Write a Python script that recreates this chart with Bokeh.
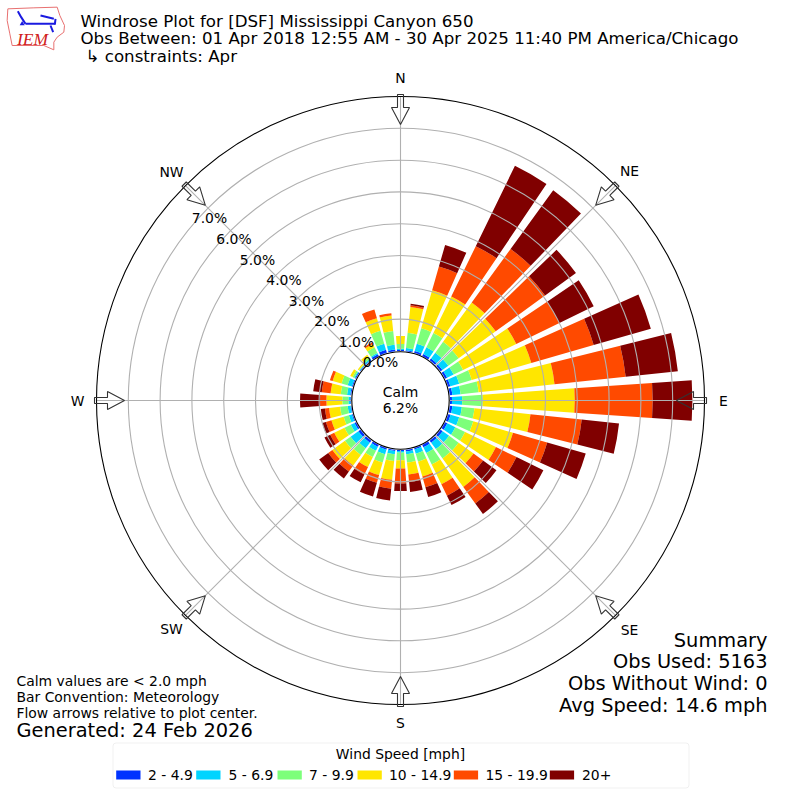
import math
import numpy as np
from bokeh.plotting import figure
from bokeh.models import ColumnDataSource, BoxAnnotation
from bokeh.core.properties import value
from bokeh.embed import file_html
from bokeh.resources import INLINE

# Wind direction (degrees, meteorological)
bearings = [0,10,20,30,40,50,60,70,80,90,100,110,120,130,140,150,160,170,
            180,190,200,210,220,230,240,250,260,270,280,290,300,310,320,330,340,350]
# Stack tops in % frequency, one list per wind speed class (cumulative)
upto_2_49 = [.03,.03,.06,.07,.07,.07,.07,.07,.08,.06,.08,.08,.08,.08,.08,.08,.04,.05,
             .03,.04,.05,.06,.08,.08,.05,.03,.02,.02,.03,.03,.03,.02,.02,.06,.10,.05]
upto_5_69 = [.07,.10,.30,.30,.30,.30,.30,.36,.34,.38,.38,.36,.36,.33,.33,.28,.18,.14,
             .08,.14,.20,.20,.30,.38,.18,.13,.11,.08,.13,.17,.06,.04,.06,.10,.30,.20]
upto_7_99 = [.22,.58,.80,.80,.72,.70,.63,.77,.91,1.03,.78,.82,.70,.70,.69,.68,.44,.40,
             .32,.35,.47,.42,.56,.60,.40,.30,.35,.27,.33,.37,.12,.06,.12,.30,.72,.64]
upto_10_149 = [.47,1.40,2.05,2.08,2.25,2.14,2.49,2.72,3.31,3.92,2.55,2.12,1.78,1.28,1.80,1.37,.93,.78,
               .58,.95,.88,.77,.97,1.09,.76,.70,.70,.77,.65,.66,.20,.10,.22,.42,1.13,1.13]
upto_15_199 = [.47,1.45,2.82,3.84,4.33,4.06,4.00,4.76,5.56,6.37,4.17,3.24,2.50,1.65,2.44,1.77,1.28,1.02,
               1.05,1.23,1.13,1.03,1.20,1.25,.90,.88,.83,.97,.93,.75,.20,.10,.22,.47,1.42,1.20]
upto_20_plus = [.47,1.50,3.53,6.65,6.61,5.26,5.20,6.63,7.21,7.62,5.35,4.50,3.44,2.17,2.85,2.10,1.60,1.33,
                1.29,1.60,1.58,1.30,1.47,1.60,1.10,1.00,.96,1.60,1.20,.75,.20,.10,.22,.47,1.42,1.20]
class_tops = [upto_2_49, upto_5_69, upto_7_99, upto_10_149, upto_15_199, upto_20_plus]
class_labels = ["2 - 4.9", "5 - 6.9", "7 - 9.9", "10 - 14.9", "15 - 19.9", "20+"]
class_colors = ["#0033ff", "#00d4ff", "#7dff7a", "#ffe600", "#ff4a00", "#800000"]
radial_ticks = [0, 1, 2, 3, 4, 5, 6, 7]
radial_labels = ["0.0%", "1.0%", "2.0%", "3.0%", "4.0%", "5.0%", "6.0%", "7.0%"]
compass = ["N", "NE", "E", "SE", "S", "SW", "W", "NW"]
compass_bearings = [0, 45, 90, 135, 180, 225, 270, 315]

R0, SCALE = 49.6, 31.8
BAR_W = 8.0
FONT = value("DejaVu Sans")


def rad(pct):
    return R0 + SCALE * np.asarray(pct, dtype=float)


def X(px):
    return px - 400.0


def Y(py):
    return 400.0 - py


p = figure(width=800, height=800, x_range=(-400, 400), y_range=(-400, 400),
           output_backend="svg", toolbar_location=None, min_border=0)
p.axis.visible = False
p.grid.visible = False
p.outline_line_color = None
p.background_fill_color = "white"

# bars
b = np.array(bearings, dtype=float)
start = np.radians(90 - b - BAR_W / 2)
end = np.radians(90 - b + BAR_W / 2)
prev = np.zeros(len(b))
for tops, col in zip(class_tops, class_colors):
    tops = np.array(tops)
    keep = tops > prev
    src = ColumnDataSource(dict(inner=rad(prev)[keep], outer=rad(tops)[keep],
                                s=start[keep], e=end[keep]))
    p.annular_wedge(x=0, y=0, inner_radius="inner", outer_radius="outer",
                    start_angle="s", end_angle="e", source=src,
                    fill_color=col, line_color=None)
    prev = tops

# grid
GRID = "#b0b0b0"
for t in radial_ticks[1:]:
    p.circle(x=0, y=0, radius=float(rad(t)), fill_color=None, line_color=GRID, line_width=1.1)
cb = np.radians(90 - np.array(compass_bearings, dtype=float))
p.segment(x0=0, y0=0, x1=304 * np.cos(cb), y1=304 * np.sin(cb), line_color=GRID, line_width=1.1)

# outer frame and calm circle
p.circle(x=0, y=0, radius=304, fill_color=None, line_color="black", line_width=1.1)
p.circle(x=0, y=0, radius=48.7, fill_color="white", line_color="black", line_width=1.1)

# hollow flow arrows
shape_r = [306, 306, 293, 293, 276, 293, 293]
shape_w = [-3, 3, 3, 9, 0, -9, -3]
xs, ys = [], []
for th in cb:
    ux, uy = math.cos(th), math.sin(th)
    xs.append([r * ux - w * uy for r, w in zip(shape_r, shape_w)])
    ys.append([r * uy + w * ux for r, w in zip(shape_r, shape_w)])
p.patches(xs, ys, fill_color=None, line_color="#333333", line_width=1.1)


def label(x, y, txt, size, align="center", color="black", font=FONT, style="normal"):
    p.text(x=[X(x)], y=[Y(y)], text=[txt], text_font=font, text_font_size=f"{size}px",
           text_align=align, text_baseline="middle", text_color=color, text_font_style=style)


# compass labels
compass_px = [(400, 77), (629, 170), (723, 400), (629, 629), (400, 722), (171, 628), (77, 400), (171, 171)]
for (x, y), t in zip(compass_px, compass):
    label(x, y, t, 13.9)

# radial labels
radial_px = [(380, 361), (356, 341), (331.5, 320.5), (306, 300), (283.5, 279), (257, 259), (233.5, 238), (209, 217)]
for (x, y), t in zip(radial_px, radial_labels):
    label(x, y, t, 13.9)

label(400, 391.5, "Calm", 13.9)
label(400, 407.5, "6.2%", 13.9)

# titles
label(80, 21, "Windrose Plot for [DSF] Mississippi Canyon 650", 16.67, "left")
label(80, 38, "Obs Between: 01 Apr 2018 12:55 AM - 30 Apr 2025 11:40 PM America/Chicago", 16.67, "left")
label(85, 56, "\u21b3 constraints: Apr", 16.67, "left")

# summary
for y, t in zip([640, 661, 683, 705], ["Summary", "Obs Used: 5163", "Obs Without Wind: 0", "Avg Speed: 14.6 mph"]):
    label(767, y, t, 19.4, "right")

# notes
for y, t in zip([680, 696, 712], ["Calm values are < 2.0 mph", "Bar Convention: Meteorology",
                                  "Flow arrows relative to plot center."]):
    label(16, y, t, 13.9, "left")
label(16, 730, "Generated: 24 Feb 2026", 19.4, "left")

# legend
p.add_layout(BoxAnnotation(left=X(112.5), right=X(688.5), top=Y(742.5), bottom=Y(787.5),
                           fill_alpha=0, line_color="#cccccc", line_width=1, border_radius=3))
label(400, 753, "Wind Speed [mph]", 13.9)
sw_left = [115.7, 195.7, 277, 357, 453.3, 549.3]
txt_left = [147.5, 228, 308.5, 388.5, 485, 581.5]
for sl, tl, lab, col in zip(sw_left, txt_left, class_labels, class_colors):
    p.quad(left=[X(sl)], right=[X(sl + 24.3)], top=[Y(770)], bottom=[Y(779)], fill_color=col, line_color=None)
    label(tl, 774, lab, 13.9, "left")

# logo
lx = [22, 100, 170, 178, 192, 190, 170, 160, 160, 130, 35, 28, 20, 22]
ly = [25, 22, 20, 45, 75, 95, 110, 125, 148, 135, 135, 100, 60, 25]
p.line([X(v / 3) for v in lx], [Y(v / 3) for v in ly], line_color="#e87070", line_width=1)
p.multi_line(
    [[X(v / 3) for v in s] for s in ([75, 165], [52, 62, 75], [150, 158], [120, 160], [165, 163])],
    [[Y(v / 3) for v in s] for s in ([70, 70], [32, 50, 70], [75, 95], [45, 55], [55, 72])],
    line_color="#1a1ae0", line_width=2)
p.scatter([X(65 / 3)], [Y(70 / 3)], marker="triangle", size=5, fill_color="#1a1ae0", line_color=None)
label(16.5, 38.5, "IEM", 17.5, "left", "#d02020", value("Liberation Serif"), "italic")

open("out.html", "w").write(file_html(p, INLINE))
